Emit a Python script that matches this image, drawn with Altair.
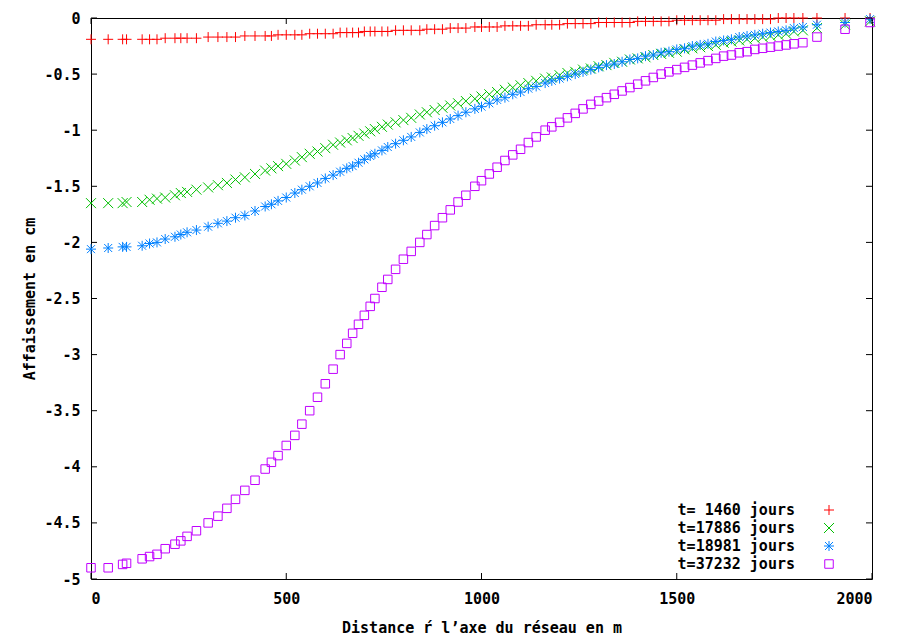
import altair as alt
import pandas as pd

# ---------------- data ----------------
distance = [0, 44, 81, 91, 131, 150, 169, 190, 215, 230, 246, 270, 300, 325, 348, 370, 394, 420,
            446, 462, 479, 500, 522, 540, 560, 580, 600, 620, 638, 655, 670, 685, 700, 715, 727,
            745, 760, 780, 800, 820, 842, 860, 880, 900, 920, 940, 960, 983, 1000, 1020, 1040,
            1060, 1080, 1100, 1120, 1140, 1163, 1180, 1200, 1220, 1240, 1260, 1280, 1300, 1320,
            1340, 1360, 1380, 1400, 1420, 1440, 1460, 1480, 1500, 1520, 1540, 1560, 1580, 1600,
            1620, 1640, 1660, 1680, 1700, 1720, 1740, 1760, 1780, 1800, 1823, 1859, 1931, 1995]

t1460 = [-0.19, -0.19, -0.19, -0.19, -0.19, -0.19, -0.19, -0.18, -0.18, -0.18, -0.18, -0.18,
         -0.17, -0.17, -0.17, -0.17, -0.16, -0.16, -0.16, -0.16, -0.15, -0.15, -0.15, -0.15,
         -0.14, -0.14, -0.14, -0.14, -0.13, -0.13, -0.13, -0.13, -0.12, -0.12, -0.12, -0.12,
         -0.12, -0.11, -0.11, -0.11, -0.11, -0.10, -0.10, -0.10, -0.09, -0.09, -0.09, -0.08,
         -0.08, -0.08, -0.08, -0.07, -0.07, -0.07, -0.07, -0.06, -0.06, -0.06, -0.06, -0.05,
         -0.05, -0.05, -0.05, -0.04, -0.04, -0.04, -0.04, -0.04, -0.03, -0.03, -0.03, -0.03,
         -0.03, -0.02, -0.02, -0.02, -0.02, -0.02, -0.02, -0.01, -0.01, -0.01, -0.01, -0.01,
         -0.01, -0.01, 0.00, 0.00, 0.00, 0.00, 0.00, 0.00, 0.00]

t17886 = [-1.65, -1.65, -1.65, -1.64, -1.64, -1.62, -1.61, -1.60, -1.58, -1.56, -1.55, -1.53,
          -1.51, -1.49, -1.47, -1.44, -1.42, -1.39, -1.36, -1.34, -1.32, -1.30, -1.27, -1.24,
          -1.21, -1.19, -1.16, -1.13, -1.11, -1.09, -1.07, -1.05, -1.03, -1.01, -0.99, -0.97,
          -0.95, -0.93, -0.91, -0.89, -0.86, -0.84, -0.82, -0.80, -0.78, -0.76, -0.74, -0.72,
          -0.70, -0.68, -0.66, -0.64, -0.62, -0.60, -0.58, -0.56, -0.54, -0.53, -0.51, -0.49,
          -0.48, -0.46, -0.45, -0.43, -0.42, -0.40, -0.39, -0.37, -0.36, -0.35, -0.33, -0.32,
          -0.31, -0.30, -0.28, -0.27, -0.26, -0.25, -0.24, -0.22, -0.21, -0.20, -0.19, -0.18,
          -0.17, -0.16, -0.15, -0.14, -0.12, -0.11, -0.09, -0.06, -0.03]

t18981 = [-2.06, -2.05, -2.04, -2.04, -2.03, -2.01, -2.00, -1.97, -1.95, -1.93, -1.91, -1.89,
          -1.86, -1.83, -1.81, -1.78, -1.76, -1.72, -1.68, -1.66, -1.63, -1.60, -1.56, -1.53,
          -1.50, -1.47, -1.43, -1.40, -1.37, -1.34, -1.32, -1.29, -1.26, -1.23, -1.21, -1.18,
          -1.15, -1.12, -1.09, -1.06, -1.02, -0.99, -0.96, -0.93, -0.90, -0.87, -0.84, -0.81,
          -0.79, -0.76, -0.73, -0.71, -0.68, -0.66, -0.63, -0.61, -0.58, -0.56, -0.54, -0.52,
          -0.50, -0.48, -0.46, -0.44, -0.42, -0.41, -0.39, -0.37, -0.36, -0.34, -0.33, -0.31,
          -0.30, -0.28, -0.27, -0.25, -0.24, -0.23, -0.21, -0.20, -0.19, -0.17, -0.16, -0.15,
          -0.14, -0.13, -0.12, -0.11, -0.09, -0.08, -0.06, -0.04, -0.01]

t37232 = [-4.90, -4.90, -4.87, -4.86, -4.82, -4.80, -4.78, -4.73, -4.69, -4.66, -4.62, -4.57,
          -4.50, -4.44, -4.37, -4.29, -4.21, -4.12, -4.02, -3.96, -3.90, -3.81, -3.72, -3.62,
          -3.50, -3.38, -3.26, -3.13, -3.00, -2.90, -2.81, -2.73, -2.65, -2.57, -2.50, -2.40,
          -2.33, -2.24, -2.15, -2.08, -2.00, -1.93, -1.85, -1.78, -1.71, -1.64, -1.58, -1.50,
          -1.45, -1.39, -1.33, -1.27, -1.22, -1.17, -1.11, -1.06, -1.00, -0.97, -0.93, -0.89,
          -0.85, -0.81, -0.77, -0.74, -0.71, -0.68, -0.65, -0.62, -0.59, -0.56, -0.53, -0.50,
          -0.48, -0.46, -0.44, -0.42, -0.40, -0.38, -0.36, -0.34, -0.33, -0.31, -0.30, -0.28,
          -0.27, -0.26, -0.25, -0.24, -0.23, -0.22, -0.17, -0.10, -0.04]

series_labels = ["t= 1460 jours", "t=17886 jours", "t=18981 jours", "t=37232 jours"]
series_values = [t1460, t17886, t18981, t37232]

x_ticks = [0, 500, 1000, 1500, 2000]
y_ticks = [0, -0.5, -1, -1.5, -2, -2.5, -3, -3.5, -4, -4.5, -5]

x_title = "Distance ŕ l’axe du réseau en m"
y_title = "Affaissement en cm"

# ---------------- styling ----------------
series_colors = ["#ff0000", "#00c000", "#0080ff", "#c000ff"]
PLUS = "M-1,0L1,0M0,-1L0,1"
CROSS = "M-1,-1L1,1M-1,1L1,-1"
STAR = "M-1,0L1,0M0,-1L0,1M-0.8,-0.8L0.8,0.8M-0.8,0.8L0.8,-0.8"
SQUARE = "M-0.85,-0.85L0.85,-0.85L0.85,0.85L-0.85,0.85Z"
series_shapes = [PLUS, CROSS, STAR, SQUARE]

FONT = "DejaVu Sans Mono"
FSIZE = 15
W, H = 781, 561
TICK = 6
MSIZE = 100

rows = []
for lab, vals in zip(series_labels, series_values):
    assert len(vals) == len(distance), lab
    for d, v in zip(distance, vals):
        rows.append({"distance": d, "affaissement": v, "series": lab})
df = pd.DataFrame(rows)


def xs():
    return alt.Scale(domain=[0, 2000], nice=False, zero=False)


def ys():
    return alt.Scale(domain=[-5, 0], nice=False, zero=False)


cscale = alt.Scale(domain=series_labels, range=series_colors)
sscale = alt.Scale(domain=series_labels, range=series_shapes)

points = alt.Chart(df).mark_point(filled=False, size=MSIZE, strokeWidth=1, opacity=1).encode(
    x=alt.X("distance:Q", scale=xs(), title=x_title,
            axis=alt.Axis(values=x_ticks, grid=False, domain=False, ticks=False,
                          labelPadding=12, labelFont=FONT, labelFontSize=FSIZE,
                          labelFontWeight="bold", labelColor="#000",
                          labelExpr="'' + datum.value",
                          titleFont=FONT, titleFontSize=FSIZE, titleFontWeight="bold",
                          titleColor="#000", titlePadding=14)),
    y=alt.Y("affaissement:Q", scale=ys(), title=y_title,
            axis=alt.Axis(values=y_ticks, grid=False, domain=False, ticks=False,
                          labelPadding=11, labelFont=FONT, labelFontSize=FSIZE,
                          labelFontWeight="bold", labelColor="#000",
                          labelExpr="'' + datum.value",
                          titleFont=FONT, titleFontSize=FSIZE, titleFontWeight="bold",
                          titleColor="#000", titlePadding=6)),
    color=alt.Color("series:N", scale=cscale, legend=None),
    shape=alt.Shape("series:N", scale=sscale, legend=None),
)

# inward tick marks on all four sides (gnuplot style)
ydf = pd.DataFrame({"affaissement": y_ticks})
xdf = pd.DataFrame({"distance": x_ticks})
tick_style = dict(color="#000", strokeWidth=1)
yl = alt.Chart(ydf).mark_rule(**tick_style).encode(
    y=alt.Y("affaissement:Q", scale=ys(), axis=None), x=alt.value(0), x2=alt.value(TICK))
yr = alt.Chart(ydf).mark_rule(**tick_style).encode(
    y=alt.Y("affaissement:Q", scale=ys(), axis=None), x=alt.value(W - TICK), x2=alt.value(W))
xb = alt.Chart(xdf).mark_rule(**tick_style).encode(
    x=alt.X("distance:Q", scale=xs(), axis=None), y=alt.value(H), y2=alt.value(H - TICK))
xt = alt.Chart(xdf).mark_rule(**tick_style).encode(
    x=alt.X("distance:Q", scale=xs(), axis=None), y=alt.value(0), y2=alt.value(TICK))

# legend inside the plot, bottom right: label then symbol
LEG_TEXT_X = 704
LEG_SYM_X = 738
LEG_TOP = 492
LEG_STEP = 18
ldf = pd.DataFrame({"series": series_labels, "row": list(range(len(series_labels)))})
ldf["ly"] = LEG_TOP + LEG_STEP * ldf["row"]
leg_text = alt.Chart(ldf).mark_text(align="right", baseline="middle", font=FONT,
                                    fontSize=FSIZE, fontWeight="bold", color="#000").encode(
    x=alt.value(LEG_TEXT_X), y=alt.Y("ly:Q", scale=None, axis=None), text="series:N")
leg_sym = alt.Chart(ldf).mark_point(filled=False, size=MSIZE, strokeWidth=1, opacity=1).encode(
    x=alt.value(LEG_SYM_X), y=alt.Y("ly:Q", scale=None, axis=None),
    color=alt.Color("series:N", scale=cscale, legend=None),
    shape=alt.Shape("series:N", scale=sscale, legend=None))

chart = alt.layer(points, yl, yr, xb, xt, leg_text, leg_sym).resolve_scale(
    x="independent", y="independent"
).resolve_axis(x="independent", y="independent").properties(
    width=W, height=H,
    autosize=alt.AutoSizeParams(type="none"),
    padding={"left": 91, "top": 18, "right": 35, "bottom": 59},
    background="white",
).configure_view(stroke="#000", strokeWidth=1)

chart.save("out.html", embed_options={"renderer": "svg", "actions": False})
